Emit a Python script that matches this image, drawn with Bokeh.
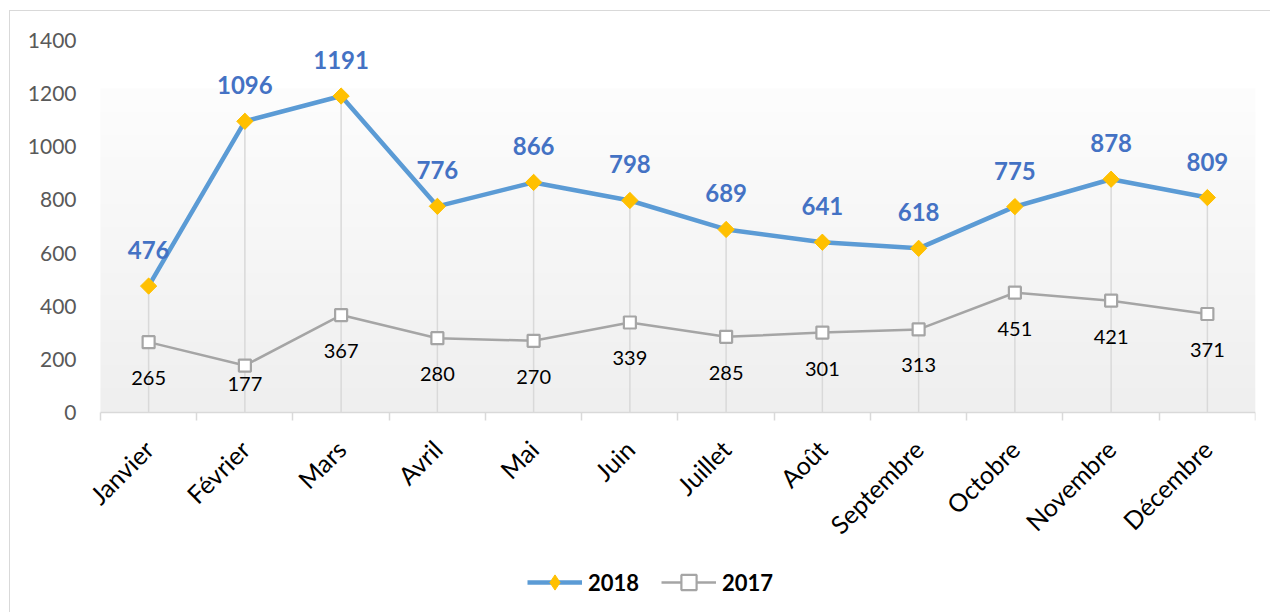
import numpy as np
from math import pi
from bokeh.plotting import figure
from bokeh.models import (Range1d, FixedTicker, Legend, LegendItem, ColumnDataSource)
from bokeh.core.properties import value
from bokeh.embed import file_html
from bokeh.resources import INLINE

months = ["Janvier", "Février", "Mars", "Avril", "Mai", "Juin", "Juillet",
          "Août", "Septembre", "Octobre", "Novembre", "Décembre"]
v2018 = [476, 1096, 1191, 776, 866, 798, 689, 641, 618, 775, 878, 809]
v2017 = [265, 177, 367, 280, 270, 339, 285, 301, 313, 451, 421, 371]
y_ticks = [0, 200, 400, 600, 800, 1000, 1200, 1400]

FONT = "Lato"
x = list(range(len(months)))

# the frame extends below the value axis (legend inside) and a bit to the left
# (so the rotated first month label is not clipped)
Y_MIN = -756
X_START = -0.687

p = figure(width=1261, height=602, output_backend="svg", toolbar_location=None,
           x_range=Range1d(X_START, len(months) - 0.5), y_range=Range1d(Y_MIN, 1400),
           min_border_left=72, min_border_right=16, min_border_top=29,
           min_border_bottom=0)
p.styles = {"margin-left": "9px", "margin-top": "10px",
            "border-left": "1px solid #D9D9D9", "border-top": "1px solid #D9D9D9"}
p.outline_line_color = None
p.background_fill_color = "white"
p.border_fill_color = "white"
p.grid.visible = False

# plot-area gradient background (decoration)
n = 200
top_c = np.array([253, 253, 253], dtype=float)
bot_c = np.array([239, 239, 239], dtype=float)
img = np.empty((n, 1), dtype=np.uint32)
view = img.view(dtype=np.uint8).reshape((n, 1, 4))
for i in range(n):
    t = i / (n - 1)
    c = bot_c + (top_c - bot_c) * t
    view[i, 0, 0:3] = c.astype(np.uint8)
    view[i, 0, 3] = 255
p.image_rgba(image=[img], x=-0.5, y=0, dw=len(months), dh=1220)

# drop lines
p.segment(x0=x, y0=[0] * len(x), x1=x, y1=v2018, line_color="#D9D9D9", line_width=1.5)

# 2017 series
src17 = ColumnDataSource(dict(x=x, y=v2017, t=[str(v) for v in v2017],
                              dy=[36, 18, 36, 36, 36, 36, 36, 36, 36, 36, 36, 36]))
l17 = p.line("x", "y", source=src17, line_color="#A5A5A5", line_width=2.5)
m17 = p.scatter("x", "y", source=src17, marker="square", size=12,
                fill_color="white", line_color="#A5A5A5", line_width=2.2)
p.text("x", "y", text="t", source=src17, y_offset="dy", text_align="center",
       text_baseline="alphabetic", text_font=value(FONT), text_font_size="20px",
       text_color="black")

# 2018 series
src18 = ColumnDataSource(dict(x=x, y=v2018, t=[str(v) for v in v2018]))
l18 = p.line("x", "y", source=src18, line_color="#5B9BD5", line_width=4.5)
# diamond used for the legend swatch (legend markers are never drawn rotated);
# it sits entirely under the rotated-square markers in the plot
d18 = p.scatter("x", "y", source=src18, marker="diamond", size=15,
                fill_color="#FFC000", line_color="#FFC000")
m18 = p.scatter("x", "y", source=src18, marker="square", angle=pi / 4, size=11.5,
                fill_color="#FFC000", line_color="#FFC000")
p.text("x", "y", text="t", source=src18, y_offset=-36, text_align="center",
       text_baseline="alphabetic", text_font=value(FONT), text_font_size="24px",
       text_font_style="bold", text_color="#4472C4")

# axes
xa = p.xaxis[0]
xa.fixed_location = 0
xa.bounds = (-0.5, len(months) - 0.5)
xa.ticker = FixedTicker(ticks=x, minor_ticks=[i - 0.5 for i in range(len(months) + 1)])
xa.major_label_overrides = {i: m for i, m in enumerate(months)}
xa.major_label_orientation = pi / 4
xa.major_tick_line_color = None
xa.major_tick_out = 0
xa.major_tick_in = 0
xa.minor_tick_line_color = "#D9D9D9"
xa.minor_tick_out = 8
xa.minor_tick_in = 0
xa.minor_tick_line_width = 1.5
xa.axis_line_color = "#D9D9D9"
xa.axis_line_width = 1.5
xa.major_label_standoff = 24
xa.major_label_text_font = FONT
xa.major_label_text_font_size = "25px"
xa.major_label_text_color = "black"

ya = p.yaxis[0]
ya.ticker = FixedTicker(ticks=y_ticks)
ya.axis_line_color = None
ya.major_tick_line_color = None
ya.minor_tick_line_color = None
ya.major_tick_out = 0
ya.major_tick_in = 0
ya.major_label_standoff = 6
ya.major_label_text_font = FONT
ya.major_label_text_font_size = "21px"
ya.major_label_text_color = "#595959"

legend = Legend(items=[LegendItem(label="2018", renderers=[l18, d18]),
                       LegendItem(label="2017", renderers=[l17, m17])],
                location=(445, 12), orientation="horizontal",
                glyph_width=55, glyph_height=38, label_standoff=6, spacing=22,
                padding=0, margin=0, border_line_color=None,
                background_fill_alpha=0,
                label_text_font=FONT, label_text_font_size="22px",
                label_text_font_style="bold", label_text_color="black")
p.add_layout(legend)

open("out.html", "w").write(file_html(p, INLINE))
